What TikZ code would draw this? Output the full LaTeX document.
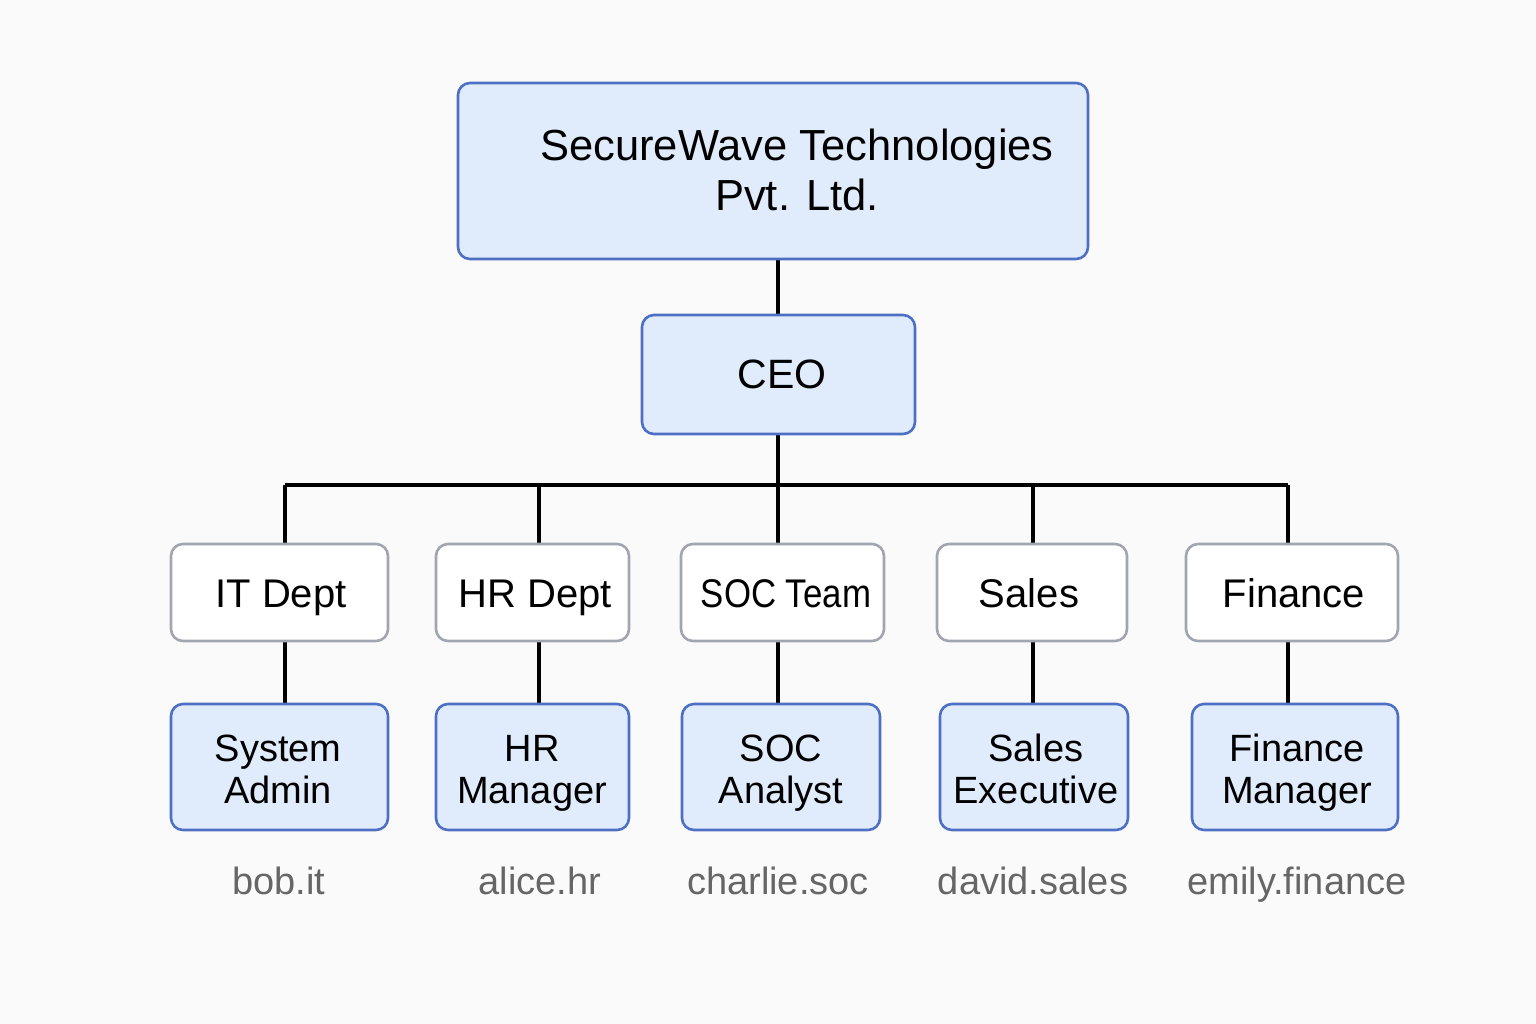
\documentclass[tikz,border=0pt]{standalone}
\usepackage{fontspec}
\setmainfont{Liberation Sans}
\definecolor{bgcol}{HTML}{FAFAFA}
\definecolor{fillblue}{HTML}{E0ECFC}
\definecolor{boxblue}{HTML}{4D6FC4}
\definecolor{boxgrey}{HTML}{A0A5AF}
\definecolor{usergrey}{HTML}{666666}
\pgfdeclarelayer{background}
\pgfsetlayers{background,main}
\begin{document}
\begin{tikzpicture}[x=1pt,y=-1pt,
  bluebox/.style={draw=boxblue, fill=fillblue, line width=2.6pt, rounded corners=12pt, inner sep=0pt},
  greybox/.style={draw=boxgrey, fill=white, line width=2.6pt, rounded corners=12pt, inner sep=0pt},
  conn/.style={line width=3.3pt, draw=black},
  toptext/.style={font=\fontsize{43.5}{50}\selectfont, align=center, inner sep=0pt},
  depttext/.style={font=\fontsize{40}{44}\selectfont, inner sep=0pt, anchor=base},
  roletext/.style={font=\fontsize{38}{42}\selectfont, align=center, inner sep=0pt},
  usertext/.style={font=\fontsize{38}{42}\selectfont, text=usergrey, inner sep=0pt, anchor=base}
]
\begin{pgfonlayer}{background}
\fill[bgcol] (0,0) rectangle (1536,1024);
\end{pgfonlayer}
\useasboundingbox (0,0) rectangle (1536,1024);

% top company box
\node[bluebox, minimum width=630pt, minimum height=176pt] (top) at (773,171) {};
\node[toptext] (toplbl) at (797,170) {SecureWave Technologies\\Pvt. Ltd.};

% CEO
\node[bluebox, minimum width=273pt, minimum height=119pt] (ceo) at (778.5,374.5) {};
\node[depttext, font=\fontsize{41}{44}\selectfont] (ceolbl) at (782,388) {CEO};

% departments
\node[greybox, minimum width=217pt, minimum height=97pt] (it) at (279.5,592.5) {};
\node[depttext] (itlbl) at (281,607) {IT Dept};
\node[greybox, minimum width=193pt, minimum height=97pt] (hr) at (532.5,592.5) {};
\node[depttext] (hrlbl) at (535,607) {HR Dept};
\node[greybox, minimum width=203pt, minimum height=97pt] (soc) at (782.5,592.5) {};
\node[depttext, font=\fontsize{40}{44}\selectfont\addfontfeatures{FakeStretch=0.87}] (soclbl) at (786,607) {SOC Team};
\node[greybox, minimum width=190pt, minimum height=97pt] (sales) at (1032,592.5) {};
\node[depttext] (saleslbl) at (1029,607) {Sales};
\node[greybox, minimum width=212pt, minimum height=97pt] (fin) at (1292,592.5) {};
\node[depttext] (finlbl) at (1294,607) {Finance};

% roles
\node[bluebox, minimum width=217pt, minimum height=126pt] (sa) at (279.5,767) {};
\node[roletext] (salbl) at (278,769) {System\\Admin};
\node[bluebox, minimum width=193pt, minimum height=126pt] (hrm) at (532.5,767) {};
\node[roletext] (hrmlbl) at (532,773) {HR\\Manager};
\node[bluebox, minimum width=198pt, minimum height=126pt] (soca) at (781,767) {};
\node[roletext] (socalbl) at (781,773) {SOC\\Analyst};
\node[bluebox, minimum width=188pt, minimum height=126pt] (se) at (1034,767) {};
\node[roletext] (selbl) at (1036,769) {Sales\\Executive};
\node[bluebox, minimum width=206pt, minimum height=126pt] (fm) at (1295,767) {};
\node[roletext] (fmlbl) at (1297,773) {Finance\\Manager};

% usernames
\node[usertext] (u1) at (279,894) {bob.it};
\node[usertext] (u2) at (540,894) {alice.hr};
\node[usertext] (u3) at (778,894) {charlie.soc};
\node[usertext] (u4) at (1033,894) {david.sales};
\node[usertext] (u5) at (1297,894) {emily.finance};

% junctions on the bar
\coordinate (j1) at (285,485);
\coordinate (j2) at (539,485);
\coordinate (j3) at (778,485);
\coordinate (j4) at (1033,485);
\coordinate (j5) at (1288,485);

\begin{pgfonlayer}{background}
\draw[conn] (top.south -| j3) -- (ceo.north -| j3);
\draw[conn] (ceo.south -| j3) -- (j3);
\draw[conn] (j1) -- (j5);
\draw[conn] (j1) -- (j1 |- it.north);
\draw[conn] (j2) -- (j2 |- hr.north);
\draw[conn] (j3) -- (j3 |- soc.north);
\draw[conn] (j4) -- (j4 |- sales.north);
\draw[conn] (j5) -- (j5 |- fin.north);
\draw[conn] (it.south -| j1) -- (sa.north -| j1);
\draw[conn] (hr.south -| j2) -- (hrm.north -| j2);
\draw[conn] (soc.south -| j3) -- (soca.north -| j3);
\draw[conn] (sales.south -| j4) -- (se.north -| j4);
\draw[conn] (fin.south -| j5) -- (fm.north -| j5);
\end{pgfonlayer}
\end{tikzpicture}
\end{document}
